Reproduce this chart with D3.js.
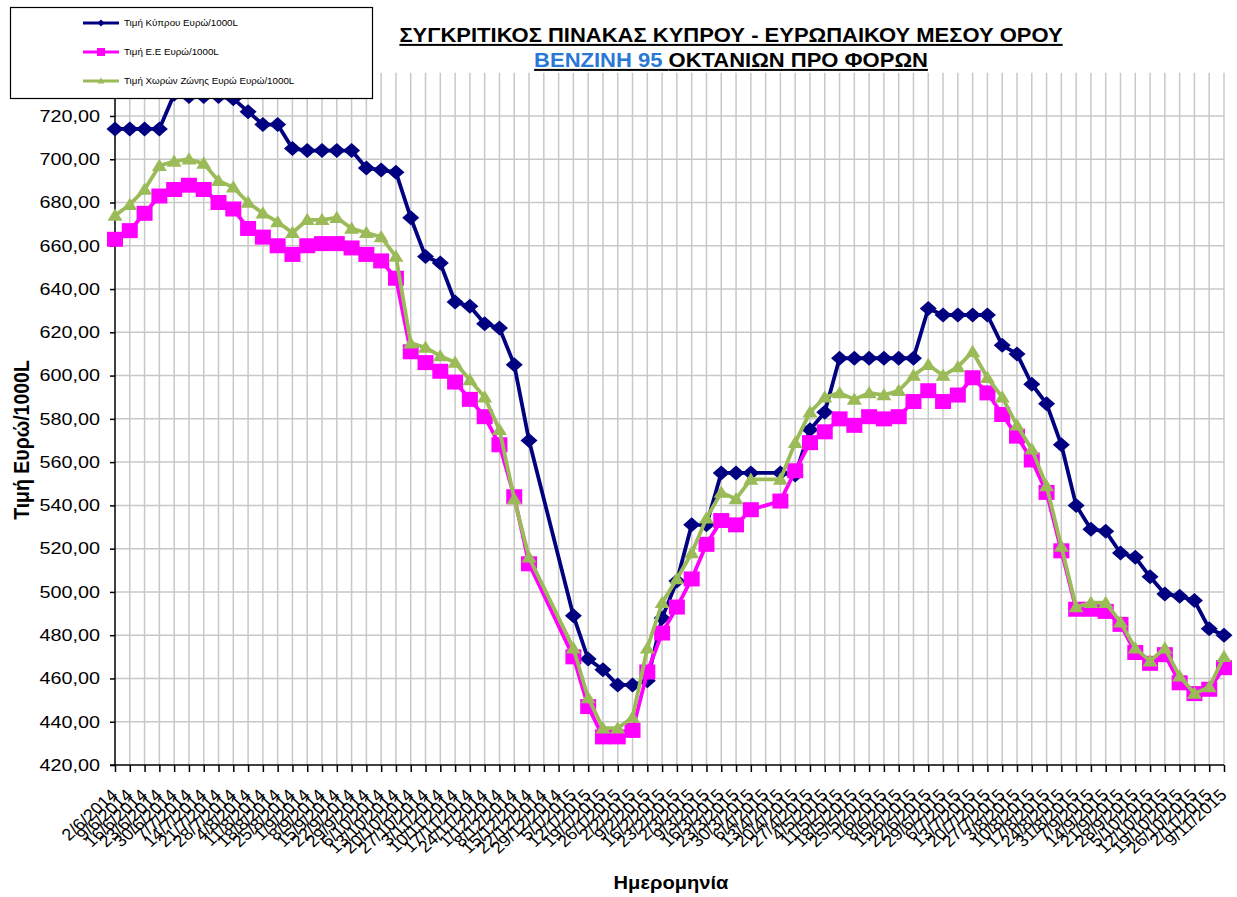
<!DOCTYPE html>
<html>
<head>
<meta charset="utf-8">
<script src="https://cdn.jsdelivr.net/npm/d3@7"></script>
<style>
  html, body { margin: 0; padding: 0; background: #fff; }
  svg { display: block; font-family: Arial, "Liberation Sans", sans-serif; }
</style>
</head>
<body>
<svg id="chart" width="1237" height="897"></svg>
<script>
const dates = ["2/6/2014","9/6/2014","16/6/2014","23/6/2014","30/6/2014","7/7/2014","14/7/2014","21/7/2014","28/7/2014",
"4/8/2014","11/8/2014","18/8/2014","25/8/2014","1/9/2014","8/9/2014","15/9/2014","22/9/2014","29/9/2014",
"6/10/2014","13/10/2014","20/10/2014","27/10/2014","3/11/2014","10/11/2014","17/11/2014","24/11/2014",
"1/12/2014","8/12/2014","15/12/2014","22/12/2014","29/12/2014","5/1/2015","12/1/2015","19/1/2015","26/1/2015",
"2/2/2015","9/2/2015","16/2/2015","23/2/2015","2/3/2015","9/3/2015","16/3/2015","23/3/2015","30/3/2015",
"6/4/2015","13/4/2015","20/4/2015","27/4/2015","4/5/2015","11/5/2015","18/5/2015","25/5/2015",
"1/6/2015","8/6/2015","15/6/2015","22/6/2015","29/6/2015","6/7/2015","13/7/2015","20/7/2015","27/7/2015",
"3/8/2015","10/8/2015","17/8/2015","24/8/2015","31/8/2015","7/9/2015","14/9/2015","21/9/2015","28/9/2015",
"5/10/2015","12/10/2015","19/10/2015","26/10/2015","2/11/2015","9/11/2015"];

const cyprus = [714,714,714,714,730,729,729,729,728,722,716,716,705,704,704,704,704,696,695,694,
673,655,652,634,632,624,622,605,570,null,null,489,469,464,457,457,459,488,505,531,
531,555,555,555,null,555,554,575,583,608,608,608,608,608,608,631,628,628,628,628,
614,610,596,587,568,540,529,528,518,516,507,499,498,496,483,480];

const eu = [663,667,675,683,686,688,686,680,677,668,664,660,656,660,661,661,659,656,653,645,
611,606,602,597,589,581,568,544,513,null,null,470,447,433,433,436,463,481,493,506,
522,533,531,538,null,542,556,569,574,580,577,581,580,581,588,593,588,591,599,592,
582,572,561,546,519,492,492,491,485,472,467,471,458,453,455,465];

const euroZone = [674,679,686,697,699,700,698,690,687,680,675,671,666,672,672,673,668,666,664,655,
615,613,609,606,598,590,575,543,516,null,null,474,451,437,437,442,474,495,506,518,
534,546,543,552,null,552,569,583,590,592,589,592,591,593,600,605,600,604,611,599,
590,577,566,549,521,493,495,495,486,474,468,474,461,453,456,470];

const yTicks = [420,440,460,480,500,520,540,560,580,600,620,640,660,680,700,720];

const seriesNames = ["Τιμή Κύπρου Ευρώ/1000L", "Τιμή Ε.Ε Ευρώ/1000L", "Τιμή Χωρών  Ζώνης  Ευρώ Ευρώ/1000L"];
const seriesColors = ["#000080", "#ff00ff", "#9bbb59"];
const seriesShapes = ["diamond", "square", "triangle"];

const svg = d3.select("#chart");
const L = 115, R = 1224, T = 72.7, B = 765;

const x = d3.scalePoint().domain(dates).range([L, R]);
const y = d3.scaleLinear().domain([420, 740]).range([B, T]);

// grid
const grid = svg.append("g");
grid.selectAll("line.v").data(dates.slice(1)).join("line")
  .attr("x1", d => x(d)).attr("x2", d => x(d))
  .attr("y1", y(740)).attr("y2", y(420))
  .attr("stroke", "#c8c8c8").attr("stroke-width", 1.5);
grid.selectAll("line.h").data(yTicks.slice(1)).join("line")
  .attr("x1", L).attr("x2", R)
  .attr("y1", d => y(d)).attr("y2", d => y(d))
  .attr("stroke", "#c8c8c8").attr("stroke-width", 1.5);

// axes
const yAxis = svg.append("g").attr("transform", `translate(${L},0)`)
  .call(d3.axisLeft(y).tickValues(yTicks).tickSize(5).tickSizeOuter(0)
    .tickFormat(d => d3.format(".2f")(d).replace(".", ",")));
yAxis.select(".domain").attr("stroke", "#000").attr("stroke-width", 1.5).attr("d", `M0,${B}V${T}`);
yAxis.selectAll(".tick line").attr("stroke", "#000").attr("stroke-width", 1.5);
yAxis.selectAll(".tick text").attr("x", -12.5).attr("font-size", 16.5).attr("fill", "#000")
  .attr("font-family", "Arial, 'Liberation Sans', sans-serif")
  .attr("transform", "scale(1.2,1)");

const xAxis = svg.append("g").attr("transform", `translate(0,${B})`)
  .call(d3.axisBottom(x).tickSize(7).tickSizeOuter(0));
xAxis.select(".domain").attr("stroke", "#000").attr("stroke-width", 1.5).attr("d", `M${L-5},0H${R}`);
xAxis.selectAll(".tick line").attr("stroke", "#000").attr("stroke-width", 1.5);
xAxis.selectAll(".tick text")
  .attr("font-size", 16.5).attr("fill", "#000")
  .attr("font-family", "Arial, 'Liberation Sans', sans-serif")
  .attr("text-anchor", "end")
  .attr("x", 0).attr("y", 0).attr("dy", "0.35em")
  .attr("transform", "translate(-1,27) scale(1.1,1) rotate(-45)");

// custom marker shapes
function shapePath(kind) {
  const p = d3.path();
  if (kind === "diamond") { const w = 8.5, h = 7.5; p.moveTo(0,-h); p.lineTo(w,0); p.lineTo(0,h); p.lineTo(-w,0); p.closePath(); }
  else if (kind === "square") { const w = 8, h = 7.5; p.rect(-w,-h,2*w,2*h); }
  else { const w = 7.5, h = 7; p.moveTo(0,-h); p.lineTo(w,h*0.75); p.lineTo(-w,h*0.75); p.closePath(); }
  return p.toString();
}
function smallShape(kind) {
  const p = d3.path();
  if (kind === "diamond") { p.moveTo(0,-3.5); p.lineTo(3.5,0); p.lineTo(0,3.5); p.lineTo(-3.5,0); p.closePath(); }
  else if (kind === "square") { p.rect(-4,-4,8,8); }
  else { p.moveTo(0,-3.5); p.lineTo(3.5,2.5); p.lineTo(-3.5,2.5); p.closePath(); }
  return p.toString();
}

const allSeries = [cyprus, eu, euroZone];
allSeries.forEach((vals, k) => {
  const pts = dates.map((d, i) => ({d, v: vals[i]})).filter(p => p.v !== null);
  const g = svg.append("g");
  g.append("path").datum(pts)
    .attr("fill", "none").attr("stroke", seriesColors[k]).attr("stroke-width", 3.8)
    .attr("stroke-linejoin", "round")
    .attr("d", d3.line().x(p => x(p.d)).y(p => y(p.v)));
  g.selectAll("path.m").data(pts).join("path")
    .attr("transform", p => `translate(${x(p.d)},${y(p.v)})`)
    .attr("d", shapePath(seriesShapes[k]))
    .attr("fill", seriesColors[k]);
});

// legend
const lg = svg.append("g");
lg.append("rect").attr("x", 10.5).attr("y", 7.5).attr("width", 362).attr("height", 91)
  .attr("fill", "#fff").attr("stroke", "#000").attr("stroke-width", 1.2);
const legY = [23, 52, 81];
seriesNames.forEach((n, k) => {
  lg.append("line").attr("x1", 83).attr("x2", 119).attr("y1", legY[k]).attr("y2", legY[k])
    .attr("stroke", seriesColors[k]).attr("stroke-width", 3);
  lg.append("path").attr("transform", `translate(101,${legY[k]})`)
    .attr("d", smallShape(seriesShapes[k]))
    .attr("fill", seriesColors[k]);
  lg.append("text").attr("transform", `translate(124,${legY[k] + 3}) scale(1.15,1)`)
    .attr("font-size", 8.5).attr("fill", "#000").text(n);
});

// title
svg.append("text").attr("transform", "translate(731,42) scale(1.1,1)").attr("text-anchor", "middle")
  .attr("font-size", 20).attr("font-weight", "bold").attr("fill", "#000")
  .style("text-decoration", "underline")
  .text("ΣΥΓΚΡΙΤΙΚΟΣ ΠΙΝΑΚΑΣ ΚΥΠΡΟΥ - ΕΥΡΩΠΑΙΚΟΥ ΜΕΣΟΥ ΟΡΟΥ");
const t2 = svg.append("text").attr("transform", "translate(731,67) scale(1.1,1)").attr("text-anchor", "middle")
  .attr("font-size", 20).attr("font-weight", "bold")
  .style("text-decoration", "underline");
t2.append("tspan").attr("fill", "#2a78d6").text("ΒΕΝΖΙΝΗ 95 ");
t2.append("tspan").attr("fill", "#000").text("ΟΚΤΑΝΙΩΝ ΠΡΟ ΦΟΡΩΝ");

// axis titles
svg.append("text").attr("transform", "translate(671,889) scale(1.15,1)").attr("text-anchor", "middle")
  .attr("font-size", 17.5).attr("font-weight", "bold").attr("fill", "#000").text("Ημερομηνία");
svg.append("text").attr("transform", "translate(29,440) scale(1.1,1) rotate(-90)").attr("text-anchor", "middle")
  .attr("font-size", 19.5).attr("font-weight", "bold").attr("fill", "#000").text("Τιμή Ευρώ/1000L");
</script>
</body>
</html>
